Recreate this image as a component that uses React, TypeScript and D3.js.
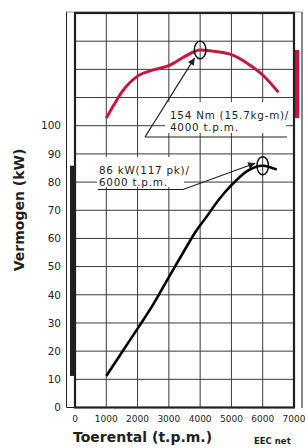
import * as d3 from 'd3';

// rpm values shared by the x axis
const xTicks = [0, 1000, 2000, 3000, 4000, 5000, 6000, 7000];
const yTicks = [0, 10, 20, 30, 40, 50, 60, 70, 80, 90, 100];
const yGrid = [0, 10, 20, 30, 40, 50, 60, 70, 80, 90, 100, 110, 120, 130, 140];

// power curve (kW)
const powerRpm = [1000, 1500, 2000, 2500, 3000, 3500, 3850, 4200, 4600, 5000, 5500, 6000, 6450];
const powerKw = [11.2, 19.6, 28.0, 36.6, 46.3, 55.8, 62.3, 67.6, 73.8, 78.9, 83.9, 85.8, 84.4];

// torque curve, in units of the left axis (no torque scale is printed)
const torqueRpm = [1000, 1250, 1500, 2000, 2500, 3000, 3500, 4000, 4500, 5000, 5500, 6000, 6500];
const torqueVal = [102.7, 107.5, 112.0, 117.6, 119.8, 121.3, 124.5, 126.9, 126.3, 125.2, 122.2, 118.0, 111.9];

const torqueNote = ['154 Nm (15.7kg-m)/', '4000 t.p.m.'];
const powerNote = ['86 kW(117 pk)/', '6000 t.p.m.'];

const W = 306;
const H = 448;
const INK = '#231f20';
const RED = '#c8163e';
const FONT = '"DejaVu Sans", Verdana, sans-serif';

export default function App() {
  const x = d3.scaleLinear().domain([0, 7000]).range([75, 294]);
  const y = d3.scaleLinear().domain([0, 140]).range([407.5, 13]);

  const power = powerRpm.map((r, i) => ({ r, v: powerKw[i] }));
  const torque = torqueRpm.map((r, i) => ({ r, v: torqueVal[i] }));

  const line = d3.line<{ r: number; v: number }>()
    .x(d => x(d.r))
    .y(d => y(d.v))
    .curve(d3.curveMonotoneX);

  const pExt = d3.extent(powerKw) as [number, number];
  const tExt = d3.extent(torqueVal) as [number, number];

  // peak markers
  const tPeak = torque[d3.maxIndex(torque, d => d.v)];
  const pPeak = power[d3.maxIndex(power, d => d.v)];
  const tpx = x(tPeak.r), tpy = y(tPeak.v);
  const ppx = x(pPeak.r), ppy = y(pPeak.v);

  return (
    <svg width={W} height={H} style={{ position: 'absolute', left: 0, top: 0 }}>
      <defs>
        <marker id="ah" viewBox="0 0 10 10" refX="10" refY="5" markerWidth="9" markerHeight="7"
          markerUnits="userSpaceOnUse" orient="auto">
          <path d="M0,0L10,5L0,10z" fill={INK} />
        </marker>
      </defs>
      <rect width={W} height={H} fill="#fff" />

      {/* outer frame */}
      <line x1={66} x2={302} y1={12} y2={12} stroke="#999" strokeWidth={1} />
      <line x1={66.5} x2={66.5} y1={12} y2={407.5} stroke={INK} strokeWidth={1} />
      <line x1={66.5} x2={75} y1={407.5} y2={407.5} stroke={INK} strokeWidth={1} />
      <line x1={302} x2={302} y1={12} y2={408} stroke="#555" strokeWidth={1.4} />

      {/* grid */}
      {xTicks.map(t => (
        <line key={'gx' + t} x1={x(t)} x2={x(t)} y1={y(140)} y2={y(0)} stroke="#3a3a3a" strokeWidth={1} />
      ))}
      {yGrid.map(t => (
        <line key={'gy' + t} x1={x(0)} x2={x(7000)} y1={y(t)} y2={y(t)} stroke="#3a3a3a" strokeWidth={1} />
      ))}

      {/* range bars */}
      <rect x={70} y={y(pExt[1])} width={4} height={y(pExt[0]) - y(pExt[1])} fill={INK} />
      <rect x={295} y={y(tExt[1])} width={4.3} height={y(tExt[0]) - y(tExt[1])} fill={RED} />

      {/* plot border */}
      <rect x={x(0)} y={y(140)} width={x(7000) - x(0)} height={y(0) - y(140)}
        fill="none" stroke={INK} strokeWidth={2.2} />

      {/* curves */}
      <path d={line(torque) || ''} fill="none" stroke={RED} strokeWidth={3} strokeLinejoin="round" />
      <path d={line(power) || ''} fill="none" stroke="#000" strokeWidth={2.6} strokeLinejoin="round" />

      <ellipse cx={tpx} cy={tpy} rx={5.8} ry={8.8} fill="none" stroke="#000" strokeWidth={1.4} />
      <ellipse cx={ppx} cy={ppy} rx={5.8} ry={9} fill="none" stroke="#000" strokeWidth={1.4} />

      {/* torque note */}
      <rect x={165} y={102} width={121} height={31} fill="#fff" />
      <line x1={145} x2={287} y1={137} y2={137} stroke={INK} strokeWidth={1.2} />
      <line x1={145} y1={137} x2={tpx - 5.5} y2={tpy + 8} stroke={INK} strokeWidth={1.2} markerEnd="url(#ah)" />
      <text fontFamily={FONT} fontSize={10.4} letterSpacing={0.75} fill={INK}>
        <tspan x={170} y={119}>{torqueNote[0]}</tspan>
        <tspan x={170} y={131.2}>{torqueNote[1]}</tspan>
      </text>

      {/* power note */}
      <rect x={97} y={157} width={87} height={30} fill="#fff" />
      <line x1={98} x2={183} y1={189.5} y2={189.5} stroke={INK} strokeWidth={1.2} />
      <line x1={183} y1={189.5} x2={ppx - 7.5} y2={ppy - 2.5} stroke={INK} strokeWidth={1.2} markerEnd="url(#ah)" />
      <text fontFamily={FONT} fontSize={10.4} letterSpacing={0.75} fill={INK}>
        <tspan x={99} y={174}>{powerNote[0]}</tspan>
        <tspan x={99} y={186.2}>{powerNote[1]}</tspan>
      </text>

      {/* tick labels */}
      {yTicks.map(t => (
        <text key={'ly' + t} x={61} y={y(t)} dy="0.36em" textAnchor="end"
          fontFamily={FONT} fontSize={10.5} fill={INK}>{t}</text>
      ))}
      {xTicks.map(t => (
        <text key={'lx' + t} x={x(t)} y={421.5} textAnchor="middle"
          fontFamily={FONT} fontSize={9} fill={INK}>{t}</text>
      ))}

      {/* titles */}
      <text transform="translate(23.5,210) rotate(-90)" textAnchor="middle"
        fontFamily={FONT} fontWeight="bold" fontSize={14} fill={INK}>Vermogen (kW)</text>
      <text x={73} y={442} fontFamily={FONT} fontWeight="bold" fontSize={14} fill={INK}>Toerental (t.p.m.)</text>
      <text x={254} y={443.5} fontFamily={FONT} fontWeight="bold" fontSize={8.5} fill={INK}>EEC net</text>
    </svg>
  );
}
